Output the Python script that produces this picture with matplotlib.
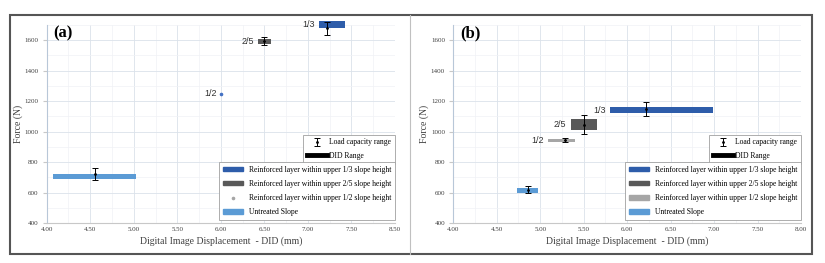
import matplotlib
matplotlib.use("Agg")
import matplotlib.pyplot as plt
from matplotlib.patches import Patch, Rectangle
from matplotlib.lines import Line2D
from matplotlib.ticker import MultipleLocator
import numpy as np

# ---- data ----
groups = ["1/3", "2/5", "1/2", "Untreated"]
legend_names = ["Reinforced layer within upper 1/3 slope height",
                "Reinforced layer within upper 2/5 slope height",
                "Reinforced layer within upper 1/2 slope height",
                "Untreated Slope"]

# panel (a)
did_min_a = [7.13, 6.43, 6.00, 4.07]
did_max_a = [7.43, 6.58, 6.00, 5.02]
force_a = [1705, 1592, 1250, 705]
thick_a = [46, 28, 0, 34]
err_x_a = [7.22, 6.50, None, 4.56]
err_lo_a = [1635, 1569, None, 683]
err_hi_a = [1722, 1620, None, 762]

# panel (b)
did_min_b = [5.80, 5.35, 5.09, 4.73]
did_max_b = [6.99, 5.65, 5.40, 4.97]
force_b = [1141, 1049, 942, 614]
thick_b = [44, 72, 22, 28]
err_x_b = [6.22, 5.50, 5.29, 4.86]
err_lo_b = [1105, 984, 930, 598]
err_hi_b = [1195, 1108, 955, 640]

xticks_a = [4.0, 4.5, 5.0, 5.5, 6.0, 6.5, 7.0, 7.5, 8.0]
xlabels_a = ["4.00", "4.50", "5.00", "5.50", "6.00", "6.50", "7.00", "7.50", "8.50"]
xticks_b = [4.0, 4.5, 5.0, 5.5, 6.0, 6.5, 7.0, 7.5, 8.0]
xlabels_b = ["4.00", "4.50", "5.00", "5.50", "6.00", "6.50", "7.00", "7.50", "8.00"]
yticks = [400, 600, 800, 1000, 1200, 1400, 1600]

colors = ["#2E5DAA", "#595959", "#A6A6A6", "#5B9BD5"]
serif = "Liberation Serif"
sans = "Liberation Sans"

W, H = 825, 263
fig = plt.figure(figsize=(W / 100, H / 100), dpi=100)


def fx(px):
    return px / W


def fy(py):
    return 1 - py / H


def panel(ax, tag, dmin, dmax, force, thick, ex, elo, ehi, xt, xl, dot_half):
    ax.set_xlim(4.0, 8.0)
    ax.set_ylim(400, 1700)
    ax.xaxis.set_minor_locator(MultipleLocator(0.25))
    ax.yaxis.set_minor_locator(MultipleLocator(100))
    ax.set_yticks(yticks)
    ax.set_xticks(xt)
    ax.set_xticklabels(xl)
    ax.grid(which="major", color="#dbe2ea", lw=0.6)
    ax.grid(which="minor", color="#f0f2f5", lw=0.5)
    ax.set_axisbelow(True)
    for s in ["top", "right"]:
        ax.spines[s].set_visible(False)
    ax.spines["left"].set_color("#b8c7d8")
    ax.spines["bottom"].set_color("#c8c8c8")
    ax.tick_params(which="both", length=0, labelsize=5, pad=3)
    ax.tick_params(axis="y", which="major", length=3, color="#c8c8c8")
    for t in ax.get_xticklabels() + ax.get_yticklabels():
        t.set_fontfamily(serif)
        t.set_color("#404040")

    handles2 = []
    err_handle = None
    for i in range(len(groups)):
        if dot_half and i == 2:
            ax.plot(dmin[i], force[i], "o", ms=1.6, color="#4472C4", zorder=3)
            handles2.append(Line2D([], [], ls="none", marker="o", ms=1.6,
                                   color="#A6A6A6"))
        else:
            ax.barh(force[i], dmax[i] - dmin[i], left=dmin[i], height=thick[i],
                    color=colors[i], zorder=3, clip_on=False)
            handles2.append(Patch(color=colors[i]))
        if i < 3:
            ax.annotate(groups[i], (dmin[i], force[i]), xytext=(-3, 0),
                        textcoords="offset points", ha="right", va="center",
                        fontsize=6.5, family=sans, color="#333333",
                        annotation_clip=False)
        if ex[i] is not None:
            mid = (elo[i] + ehi[i]) / 2
            eb = ax.errorbar(ex[i], mid, yerr=[[mid - elo[i]], [ehi[i] - mid]],
                             fmt="o", ms=1.0, color="black", ecolor="black",
                             elinewidth=0.7, capsize=2.5, capthick=0.7,
                             zorder=4, clip_on=False)
            if err_handle is None:
                err_handle = eb

    ax.set_xlabel("Digital Image Displacement  - DID (mm)", family=serif,
                  fontsize=7, color="#404040", labelpad=3)
    ax.set_ylabel("Force (N)", family=serif, fontsize=7, color="#404040",
                  labelpad=1)
    ax.text(0.02, 1.0, tag, transform=ax.transAxes, family=serif,
            fontsize=12, fontweight="bold", va="top", ha="left")

    leg1 = ax.legend([err_handle, Line2D([], [], color="black", lw=3.5)],
                     ["Load capacity range", "DID Range"],
                     loc="lower right", bbox_to_anchor=(1.0, 0.30),
                     prop={"family": serif, "size": 5.5}, frameon=True,
                     fancybox=False, edgecolor="#a0a0a0", framealpha=1,
                     handlelength=2.6, handletextpad=0.3, borderpad=0.5,
                     labelspacing=0.7, borderaxespad=0)
    leg1.get_frame().set_linewidth(0.6)
    ax.add_artist(leg1)
    leg2 = ax.legend(handles2, legend_names, loc="lower right",
                     bbox_to_anchor=(1.0, 0.015),
                     prop={"family": serif, "size": 5.5}, frameon=True,
                     fancybox=False, edgecolor="#a0a0a0", framealpha=1,
                     handlelength=2.6, handleheight=0.5, handletextpad=0.8,
                     borderpad=0.5, labelspacing=0.8, borderaxespad=0)
    leg2.get_frame().set_linewidth(0.6)


ax_a = fig.add_axes([fx(46.7), fy(223), fx(395 - 46.7), (223 - 25) / H])
ax_b = fig.add_axes([fx(453.3), fy(223), fx(801 - 453.3), (223 - 25) / H])

panel(ax_a, "(a)", did_min_a, did_max_a, force_a, thick_a, err_x_a,
      err_lo_a, err_hi_a, xticks_a, xlabels_a, True)
panel(ax_b, "(b)", did_min_b, did_max_b, force_b, thick_b, err_x_b,
      err_lo_b, err_hi_b, xticks_b, xlabels_b, False)

# outer frame and divider
fig.add_artist(Rectangle((fx(10), fy(254)), fx(812 - 10), (254 - 15) / H,
                         transform=fig.transFigure, fill=False,
                         edgecolor="#555555", lw=1.5))
fig.add_artist(Line2D([fx(410), fx(410)], [fy(254), fy(15)],
                      transform=fig.transFigure, color="#c0c0c0", lw=0.8))

fig.savefig("out.png", dpi=100)
